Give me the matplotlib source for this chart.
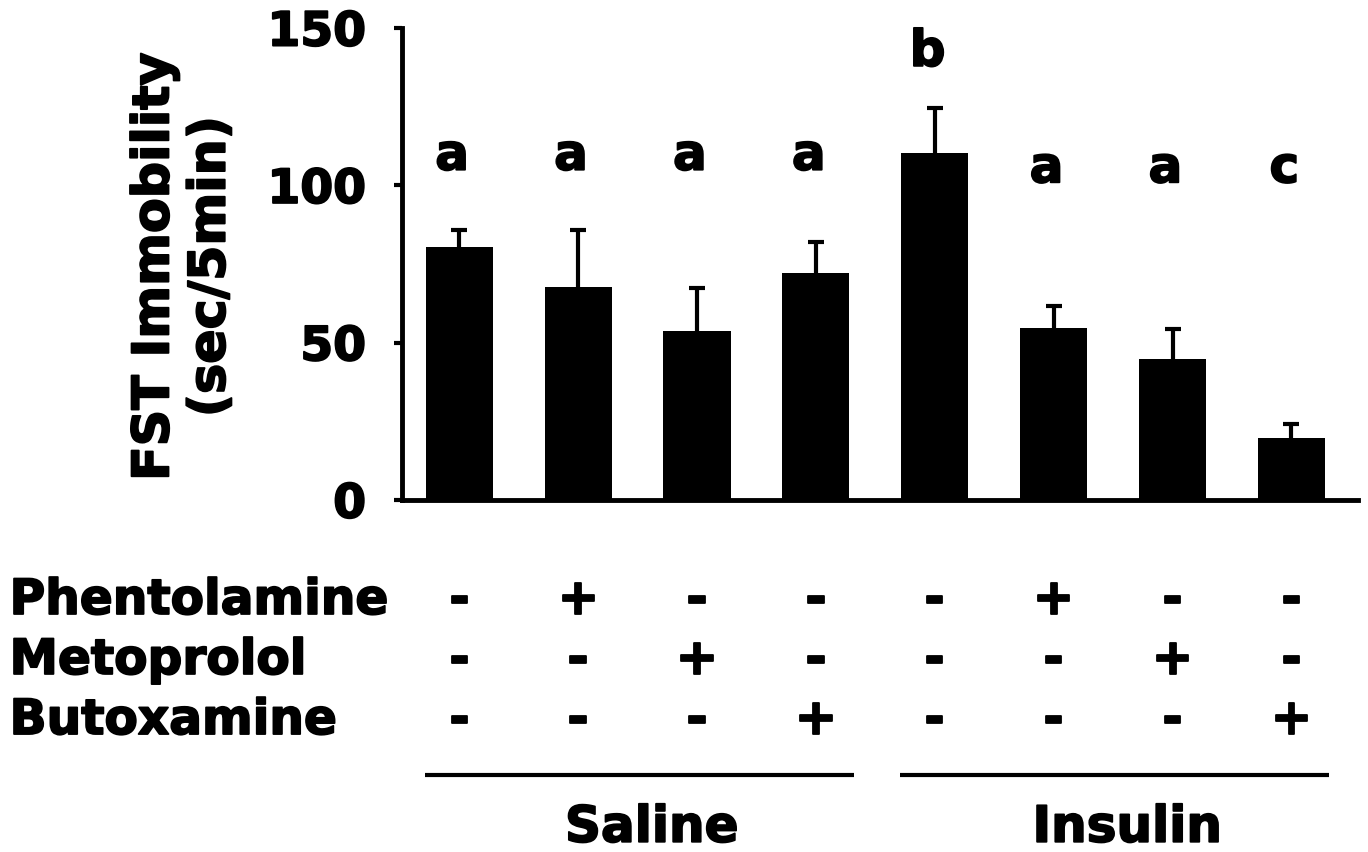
import matplotlib
matplotlib.use("Agg")
import matplotlib.pyplot as plt
import matplotlib.transforms as mtransforms
import matplotlib.patheffects as pe
import numpy as np

# Datos
grupos = ['Saline', 'Insulin']
medias = [80.3, 67.8, 53.9, 72.3, 110.2, 54.8, 44.8, 19.9]
errores = [5.4, 18.1, 13.4, 9.8, 14.4, 7.0, 9.6, 4.3]
letras = ['a', 'a', 'a', 'a', 'b', 'a', 'a', 'c']
fentolamina = ['-', '+', '-', '-', '-', '+', '-', '-']
metoprolol = ['-', '-', '+', '-', '-', '-', '+', '-']
butoxamina = ['-', '-', '-', '+', '-', '-', '-', '+']
filas = ['Phentolamine', 'Metoprolol', 'Butoxamine']

plt.rcParams['font.family'] = 'DejaVu Sans'
plt.rcParams['font.weight'] = 'bold'
grueso = [pe.withStroke(linewidth=1.3, foreground='black')]

fig = plt.figure(figsize=(13.68, 8.52), dpi=100)
ax = fig.add_axes([0.294, 0.413, 0.6987, 0.554])

x = np.arange(len(medias))
ax.bar(x, medias, width=0.565, color='black', zorder=2)
_, caps, _ = ax.errorbar(x, medias, yerr=[np.zeros(len(errores)), errores], fmt='none',
                         ecolor='black', elinewidth=3, capsize=6, capthick=3, zorder=1)
caps[0].set_visible(False)  # solo la barra superior

# letras de significancia
altura_letras = [105, 105, 105, 105, 138, 101, 101, 101]
for i, (l, h) in enumerate(zip(letras, altura_letras)):
    ax.text(i - 0.06, h, l, ha='center', va='baseline', fontsize=36, fontweight='bold',
            path_effects=grueso)

ax.set_xlim(-0.48, 7.56)
ax.set_ylim(0, 150)
ax.set_yticks([0, 50, 100, 150])
ax.set_xticks([])
for s in ['top', 'right']:
    ax.spines[s].set_visible(False)
ax.spines['left'].set_linewidth(3.5)
ax.spines['bottom'].set_linewidth(3.5)
ax.tick_params(axis='y', length=6, width=3, pad=20, labelsize=34)
for t in ax.get_yticklabels():
    t.set_fontweight('bold')
    t.set_path_effects(grueso)

fig.text(0.1335, 0.687, 'FST Immobility\n(sec/5min)', rotation=90, ha='center', va='center',
         fontsize=36.5, fontweight='bold', linespacing=1.16, path_effects=grueso)

# tabla de tratamientos debajo del eje
trans = mtransforms.blended_transform_factory(ax.transData, fig.transFigure)
filas_y = [0.2958, 0.2254, 0.1549]
for nombre, signos, yy in zip(filas, [fentolamina, metoprolol, butoxamina], filas_y):
    fig.text(0.007, yy, nombre, ha='left', va='center', fontsize=35, fontweight='bold',
             path_effects=grueso)
    for i, s in enumerate(signos):
        ax.text(i, yy, s, transform=trans, ha='center', va='center', fontsize=36,
                fontweight='bold', path_effects=grueso)

for g, (ini, fin) in zip(grupos, [(0, 3), (4, 7)]):
    ax.plot([ini - 0.29, fin + 0.32], [0.0904, 0.0904], transform=trans, color='black',
            linewidth=3, clip_on=False, solid_capstyle='butt')
    ax.text((ini + fin) / 2 + 0.12, 0.012, g, transform=trans, ha='center', va='baseline',
            fontsize=36, fontweight='bold', path_effects=grueso)

plt.savefig('out.png', dpi=100)
